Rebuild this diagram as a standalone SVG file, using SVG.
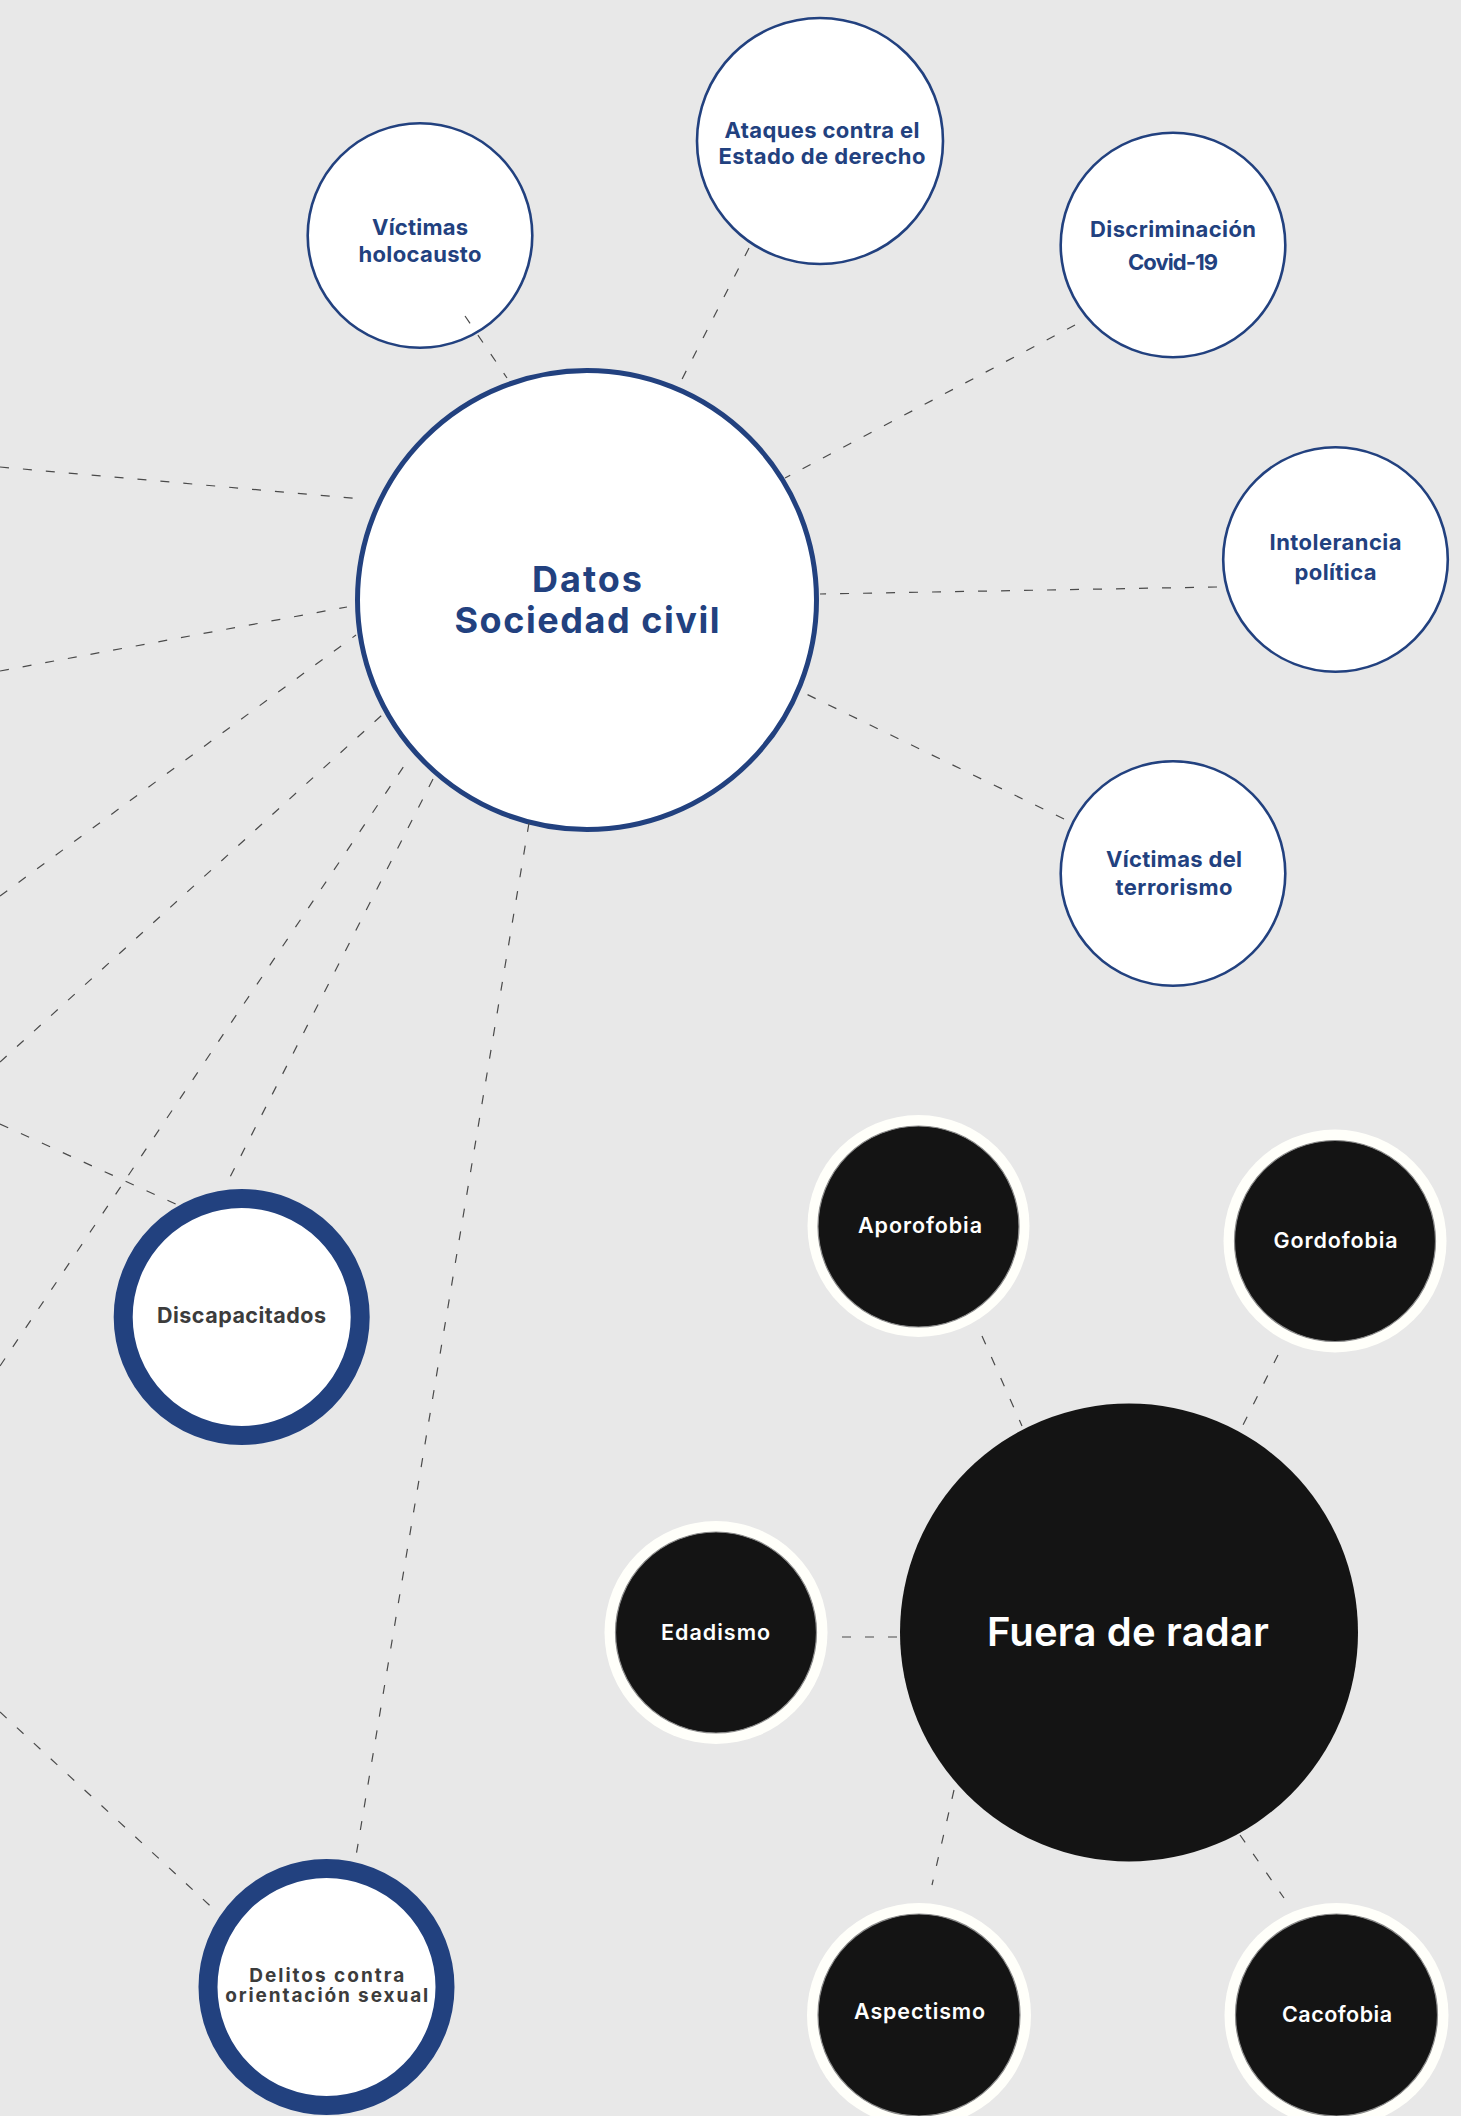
<svg xmlns="http://www.w3.org/2000/svg" width="1461" height="2116" viewBox="0 0 1461 2116">
<style>
.bg{fill:#e8e8e8}
.bn{fill:#ffffff;stroke:#22417f;stroke-width:2.6}
.main{fill:#ffffff;stroke:#22417f;stroke-width:5}
.ring{fill:#ffffff;stroke:#22417f;stroke-width:19}
.halo{fill:#fffffa}
.blk{fill:#141414;stroke:#8c8c8c;stroke-width:1.2}
.big{fill:#141414}
.bt{font-family:Inter,"Liberation Sans",sans-serif;font-weight:700;fill:#22417f;text-anchor:middle;font-size:22px}
.mt{font-family:Inter,"Liberation Sans",sans-serif;font-weight:700;fill:#22417f;text-anchor:middle;font-size:36px}
.gt{font-family:Inter,"Liberation Sans",sans-serif;font-weight:700;fill:#3c3c3c;text-anchor:middle;font-size:21.5px}
.gs{font-size:19px}
.wt{font-family:Inter,"Liberation Sans",sans-serif;font-weight:600;fill:#ffffff;text-anchor:middle;font-size:21.5px}
.wbig{font-family:Inter,"Liberation Sans",sans-serif;font-weight:600;fill:#ffffff;text-anchor:middle;font-size:40px}
.c{stroke:#4a4a4a;stroke-width:1.2;stroke-dasharray:9 14;fill:none}
</style>
<rect class="bg" x="0" y="0" width="1461" height="2116"/>

<g id="nodes">
<g id="datos-sociedad-civil">
<circle class="main" cx="587" cy="600" r="229.5"/>
<text class="mt" x="587" y="592" textLength="110">Datos</text>
<text class="mt" x="587" y="633" textLength="265">Sociedad civil</text>
</g>
<g id="victimas-holocausto">
<circle class="bn" cx="420" cy="235.5" r="112.3"/>
<text class="bt" x="420" y="235" textLength="96">Víctimas</text>
<text class="bt" x="420" y="262" textLength="123">holocausto</text>
</g>
<g id="ataques-estado-derecho">
<circle class="bn" cx="820" cy="141" r="123"/>
<text class="bt" x="822" y="138" textLength="195">Ataques contra el</text>
<text class="bt" x="822" y="164" textLength="207">Estado de derecho</text>
</g>
<g id="discriminacion-covid">
<circle class="bn" cx="1173" cy="245" r="112.3"/>
<text class="bt" x="1173" y="237" textLength="166">Discriminación</text>
<text class="bt" x="1173" y="270" textLength="90">Covid-19</text>
</g>
<g id="intolerancia-politica">
<circle class="bn" cx="1335.5" cy="559.5" r="112.3"/>
<text class="bt" x="1335.5" y="550" textLength="132">Intolerancia</text>
<text class="bt" x="1335.5" y="580" textLength="82">política</text>
</g>
<g id="victimas-terrorismo">
<circle class="bn" cx="1173" cy="873.5" r="112.3"/>
<text class="bt" x="1174" y="867" textLength="136">Víctimas del</text>
<text class="bt" x="1174" y="895" textLength="117">terrorismo</text>
</g>
<g id="discapacitados">
<circle class="ring" cx="241.7" cy="1317" r="118.5"/>
<text class="gt" x="241.5" y="1323" textLength="169">Discapacitados</text>
</g>
<g id="delitos-orientacion-sexual">
<circle class="ring" cx="326.5" cy="1987" r="118.5"/>
<text class="gt gs" x="326.7" y="1982" textLength="155">Delitos contra</text>
<text class="gt gs" x="326.7" y="2002" textLength="203">orientación sexual</text>
</g>

<g id="fuera-de-radar">
<circle class="big" cx="1129" cy="1632.5" r="229"/>
<text class="wbig" x="1128" y="1646" textLength="282">Fuera de radar</text>
</g>
<g id="aporofobia">
<circle class="halo" cx="918.5" cy="1226" r="111"/>
<circle class="blk" cx="918.5" cy="1226.5" r="100.5"/>
<text class="wt" x="920" y="1233" textLength="124">Aporofobia</text>
</g>
<g id="gordofobia">
<circle class="halo" cx="1335" cy="1241" r="111.5"/>
<circle class="blk" cx="1335" cy="1241" r="100.5"/>
<text class="wt" x="1335.6" y="1248" textLength="124">Gordofobia</text>
</g>
<g id="edadismo">
<circle class="halo" cx="716" cy="1632.5" r="111.5"/>
<circle class="blk" cx="716" cy="1632.5" r="100.5"/>
<text class="wt" x="715.6" y="1640" textLength="109">Edadismo</text>
</g>
<g id="aspectismo">
<circle class="halo" cx="919" cy="2015" r="112"/>
<circle class="blk" cx="919" cy="2015" r="101"/>
<text class="wt" x="919.6" y="2019" textLength="131">Aspectismo</text>
</g>
<g id="cacofobia">
<circle class="halo" cx="1336.5" cy="2015" r="112"/>
<circle class="blk" cx="1336.5" cy="2015" r="101"/>
<text class="wt" x="1337" y="2022" textLength="110">Cacofobia</text>
</g>
</g>

<g id="connectors">
<line class="c" x1="465" y1="316" x2="507" y2="378"/>
<line class="c" x1="749" y1="248" x2="678" y2="387"/>
<line class="c" x1="1075" y1="325" x2="785" y2="478"/>
<line class="c" x1="1217" y1="587" x2="820" y2="594"/>
<line class="c" x1="1064" y1="819" x2="800" y2="691"/>
<line class="c" x1="0" y1="467" x2="362" y2="499"/>
<line class="c" x1="0" y1="671" x2="347" y2="607"/>
<line class="c" x1="0" y1="896" x2="356" y2="635"/>
<line class="c" x1="0" y1="1062" x2="382" y2="715"/>
<line class="c" x1="0" y1="1366" x2="406" y2="763"/>
<line class="c" x1="433" y1="779" x2="225" y2="1187"/>
<line class="c" x1="0" y1="1124" x2="180" y2="1206"/>
<line class="c" x1="529" y1="823" x2="355" y2="1862"/>
<line class="c" x1="0" y1="1712" x2="218" y2="1913"/>
<line class="c" x1="982" y1="1336" x2="1022" y2="1426"/>
<line class="c" x1="1278" y1="1355" x2="1241" y2="1429"/>
<line class="c" x1="842" y1="1637" x2="900" y2="1637"/>
<line class="c" x1="954" y1="1790" x2="932" y2="1885"/>
<line class="c" x1="1240" y1="1835" x2="1284" y2="1898"/>
</g>
</svg>
